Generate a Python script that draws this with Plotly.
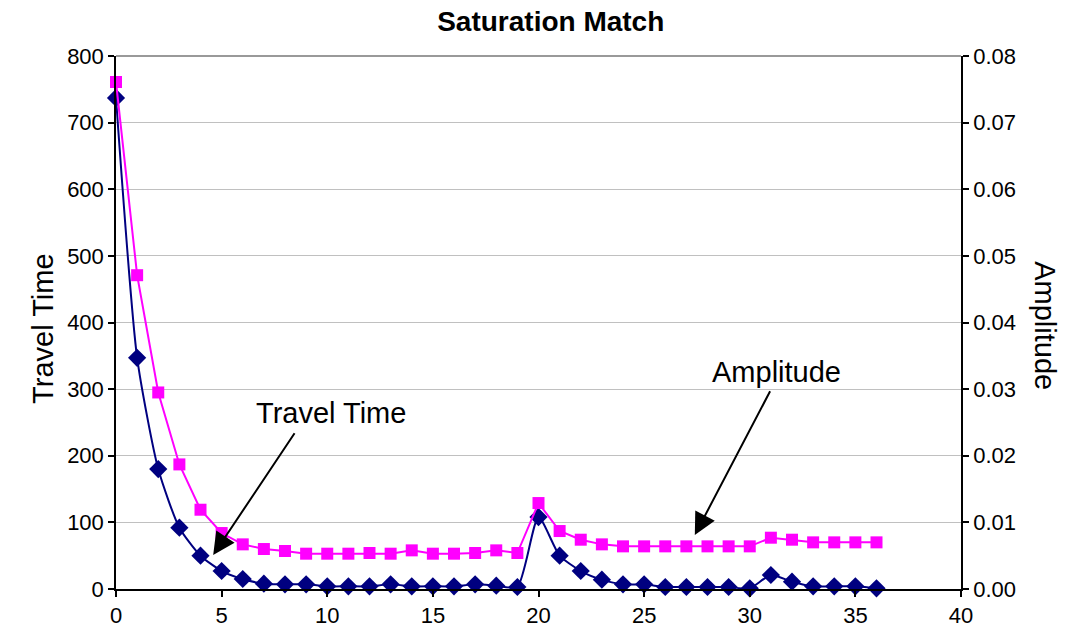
import plotly.graph_objects as go

# Stage index along the x axis
stages = list(range(0, 37))

# Travel time misfit (left axis)
travel_time = [737, 347, 180, 92, 50, 27, 15, 8, 7, 7, 4, 4, 4, 7, 4, 4, 4, 7, 5, 3,
               108, 50, 27, 14, 7, 7, 3, 3, 3, 3, 1, 21, 11, 4, 4, 4, 1]

# Amplitude misfit (right axis)
amplitude = [0.0761, 0.0471, 0.0295, 0.0187, 0.0119, 0.0084, 0.0067, 0.0060, 0.0057,
             0.0053, 0.0053, 0.0053, 0.0054, 0.0053, 0.0058, 0.0053, 0.0053, 0.0054,
             0.0058, 0.0054, 0.0129, 0.0087, 0.0074, 0.0067, 0.0064, 0.0064, 0.0064,
             0.0064, 0.0064, 0.0064, 0.0064, 0.0077, 0.0074, 0.0070, 0.0070, 0.0070,
             0.0070]

x_ticks = [0, 5, 10, 15, 20, 25, 30, 35, 40]
left_ticks = [0, 100, 200, 300, 400, 500, 600, 700, 800]
right_ticks = [0.0, 0.01, 0.02, 0.03, 0.04, 0.05, 0.06, 0.07, 0.08]

FONT = "Liberation Sans, Arial, sans-serif"
NAVY = "#000080"
MAGENTA = "#FF00FF"

fig = go.Figure()

fig.add_trace(go.Scatter(
    x=stages, y=amplitude, yaxis="y2", mode="lines+markers", name="Amplitude",
    line=dict(color=MAGENTA, width=2),
    marker=dict(symbol="square", size=12, color=MAGENTA),
    cliponaxis=False,
))

fig.add_trace(go.Scatter(
    x=stages, y=travel_time, mode="lines+markers", name="Travel Time",
    line=dict(color=NAVY, width=2, shape="spline", smoothing=0.6),
    marker=dict(symbol="diamond", size=14, color=NAVY),
    cliponaxis=False,
))

axis_common = dict(
    showline=True, linecolor="black", linewidth=1.5,
    ticks="outside", ticklen=6, tickwidth=1.5, tickcolor="black",
    tickfont=dict(family=FONT, size=22, color="black"),
    zeroline=False, automargin=False,
)

fig.update_layout(
    width=1082, height=635,
    margin=dict(l=116, r=121, t=56, b=46),
    paper_bgcolor="white", plot_bgcolor="white",
    showlegend=False,
    title=dict(text="<b>Saturation Match</b>", x=0.509, xanchor="center",
               y=0.966, yanchor="middle",
               font=dict(family=FONT, size=28, color="black"),
               automargin=False),
    xaxis=dict(range=[0, 40], tickvals=x_ticks, showgrid=False, **axis_common),
    yaxis=dict(range=[0, 800], tickvals=left_ticks, showgrid=True,
               gridcolor="#c0c0c0", gridwidth=1, **axis_common),
    yaxis2=dict(range=[0, 0.08], tickvals=right_ticks, tickformat=".2f",
                overlaying="y", side="right", showgrid=False, **axis_common),
    shapes=[
        dict(type="line", xref="paper", yref="paper", x0=0, x1=1, y0=1, y1=1,
             line=dict(color="#999999", width=2), layer="below"),
    ],
    annotations=[
        dict(text="Travel Time", xref="paper", yref="paper", x=-0.1077, y=0.488,
             showarrow=False, textangle=-90,
             font=dict(family=FONT, size=29, color="black")),
        dict(text="Amplitude", xref="paper", yref="paper", x=1.1207, y=0.493,
             showarrow=False, textangle=90,
             font=dict(family=FONT, size=29, color="black")),
        dict(text="Travel Time", x=10.17, y=264, xref="x", yref="y",
             showarrow=False, font=dict(family=FONT, size=29, color="black")),
        dict(x=4.6, y=51, ax=8.5, ay=236, xref="x", yref="y", axref="x", ayref="y",
             showarrow=True, arrowhead=2, arrowsize=2.2, arrowwidth=2,
             arrowcolor="black", text=""),
        dict(text="Amplitude", x=31.27, y=326, xref="x", yref="y",
             showarrow=False, font=dict(family=FONT, size=29, color="black")),
        dict(x=27.4, y=81, ax=31.0, ay=299, xref="x", yref="y", axref="x", ayref="y",
             showarrow=True, arrowhead=2, arrowsize=2.2, arrowwidth=2,
             arrowcolor="black", text=""),
    ],
)

fig.write_html("out.html")
